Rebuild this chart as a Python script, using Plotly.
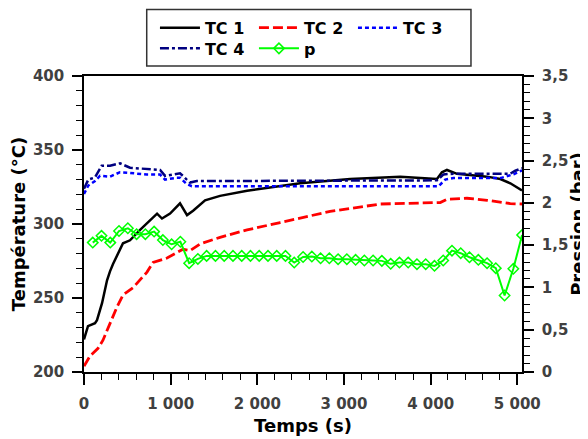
import plotly.graph_objects as go

# ---- data ----
t_tc1 = [0, 12, 46, 127, 150, 208, 266, 300, 335, 450, 531, 647, 843, 900, 993, 1108, 1189, 1259,
         1397, 1570, 1882, 2494, 3072, 3649, 4073, 4130, 4188, 4304, 4650, 4804, 4919, 5054]
tc1 = [222, 224, 231, 233, 235, 246.5, 262, 268, 273, 287, 289, 296, 307, 303.7, 307, 314, 306, 309,
       316, 319, 322.5, 327.5, 330.4, 332, 330.4, 334.9, 336.5, 333.9, 332, 330.4, 327.5, 322.6]

t_tc2 = [0, 12, 69, 162, 219, 300, 381, 450, 566, 727, 797, 958, 1074, 1143, 1224, 1339, 1570, 1882,
         2263, 2840, 3418, 4110, 4188, 4419, 4653, 4919, 5054]
tc2 = [204, 205, 210.8, 216, 221.5, 233, 244, 252, 257, 267.5, 274, 277, 281, 283, 282, 286.5, 291, 296,
       301, 308.5, 313.5, 314.5, 316.7, 317.4, 316, 313.8, 313.5]

t_tc3 = [0, 50, 127, 185, 300, 416, 531, 724, 878, 935, 1070, 1108, 1186, 1244, 2494, 4091, 4168,
         4264, 4804, 4957, 5054]
tc3 = [320.3, 326, 329, 332.6, 332, 335, 334.5, 333.4, 333.4, 330, 331.3, 331.3, 327, 325.5, 325.5,
       325.5, 330, 331, 331, 333.6, 336.3]

t_tc4 = [0, 50, 127, 185, 204, 300, 416, 531, 724, 878, 935, 1070, 1108, 1186, 1224, 1301, 4073,
         4149, 4264, 4919, 4977, 5054]
tc4 = [323.8, 330, 331.5, 337, 339.4, 339.4, 341, 338, 337, 336.5, 332.5, 334.3, 334.3, 330, 328, 329,
       329.5, 333.5, 334, 334, 336, 337.7]

t_p = [101, 202, 303, 404, 506, 607, 708, 809, 910, 1011, 1112, 1213, 1314, 1415, 1517, 1618, 1719,
       1820, 1921, 2022, 2123, 2224, 2325, 2426, 2528, 2629, 2730, 2831, 2932, 3033, 3134, 3235, 3336,
       3437, 3539, 3640, 3741, 3842, 3943, 4044, 4145, 4246, 4347, 4448, 4550, 4651, 4752, 4853, 4954,
       5055]
p = [1.53, 1.61, 1.53, 1.667, 1.70, 1.63, 1.63, 1.66, 1.56, 1.51, 1.54, 1.287, 1.337, 1.373, 1.373,
     1.373, 1.373, 1.373, 1.373, 1.373, 1.373, 1.373, 1.373, 1.294, 1.36, 1.365, 1.345, 1.345, 1.334,
     1.334, 1.326, 1.318, 1.318, 1.314, 1.279, 1.294, 1.294, 1.275, 1.275, 1.255, 1.318, 1.435, 1.405,
     1.357, 1.326, 1.287, 1.228, 0.905, 1.22, 1.62]

FONT = "DejaVu Sans"
TICKFONT = dict(family=FONT, size=15, color="#404040", weight="bold")
TITLEFONT = dict(family=FONT, size=18, color="black", weight="bold")
LEGFONT = dict(family=FONT, size=16, color="black", weight="bold")

fig = go.Figure()
fig.add_trace(go.Scatter(x=t_tc1, y=tc1, name="TC 1", mode="lines",
                         line=dict(color="black", width=2.5), legend="legend"))
fig.add_trace(go.Scatter(x=t_tc2, y=tc2, name="TC 2", mode="lines",
                         line=dict(color="#FF0000", width=2.8, dash="10px,4px"), legend="legend"))
fig.add_trace(go.Scatter(x=t_tc3, y=tc3, name="TC 3", mode="lines",
                         line=dict(color="#0000FF", width=2.5, dash="4px,3px"), legend="legend"))
fig.add_trace(go.Scatter(x=t_tc4, y=tc4, name="TC 4", mode="lines",
                         line=dict(color="#000080", width=2.5, dash="9px,3px,3px,3px"), legend="legend2"))
fig.add_trace(go.Scatter(x=t_p, y=p, name="p", mode="lines+markers", yaxis="y2",
                         line=dict(color="#00FF00", width=2),
                         marker=dict(symbol="diamond-open", size=8, color="#00FF00",
                                     line=dict(color="#00FF00", width=1.5)),
                         legend="legend2"))

axis_common = dict(showgrid=False, zeroline=False, showline=True, linecolor="black", linewidth=1.5,
                   ticks="outside", tickcolor="black", tickwidth=1.5, tickfont=TICKFONT,
                   automargin=False)

# the page body has an 8px margin, so the figure is sized to fit the 588x439 window
fig.update_layout(
    width=580, height=431,
    margin=dict(l=76, r=66, t=68, b=67, autoexpand=False),
    paper_bgcolor="white", plot_bgcolor="white",
    separators=", ",
    xaxis=dict(range=[0, 5054], tick0=0, dtick=1000, ticklen=11, mirror=True,
               separatethousands=True, ticklabelstandoff=6,
               minor=dict(dtick=200, ticks="outside", ticklen=6, tickcolor="black", tickwidth=1.2),
               title=dict(text="Temps (s)", font=TITLEFONT, standoff=8), **axis_common),
    yaxis=dict(range=[200, 400], tick0=200, dtick=50, ticklen=10, ticklabelstandoff=5,
               minor=dict(dtick=10, ticks="outside", ticklen=6, tickcolor="black", tickwidth=1.2),
               title=dict(text="Température (°C)", font=TITLEFONT, standoff=4), **axis_common),
    yaxis2=dict(range=[0, 3.5], tick0=0, dtick=0.5, ticklen=10, overlaying="y", side="right",
                ticklabelstandoff=5,
                minor=dict(dtick=0.1, ticks="outside", ticklen=6, tickcolor="black", tickwidth=1.2),
                title=dict(text="Pression (bar)", font=TITLEFONT, standoff=4), **axis_common),
    legend=dict(orientation="h", x=0.162, xanchor="left", y=1.163, yanchor="middle",
                itemwidth=40, entrywidth=44, entrywidthmode="pixels",
                bgcolor="rgba(0,0,0,0)", borderwidth=0, font=LEGFONT),
    legend2=dict(orientation="h", x=0.162, xanchor="left", y=1.093, yanchor="middle",
                 itemwidth=40, entrywidth=44, entrywidthmode="pixels",
                 bgcolor="rgba(0,0,0,0)", borderwidth=0, font=LEGFONT),
    shapes=[dict(type="rect", xref="paper", yref="paper", x0=0.1432, x1=0.8835, y0=1.0337, y1=1.225,
                 line=dict(color="#333333", width=1.5), fillcolor="rgba(0,0,0,0)")],
    showlegend=True,
)

fig.write_html("out.html")
